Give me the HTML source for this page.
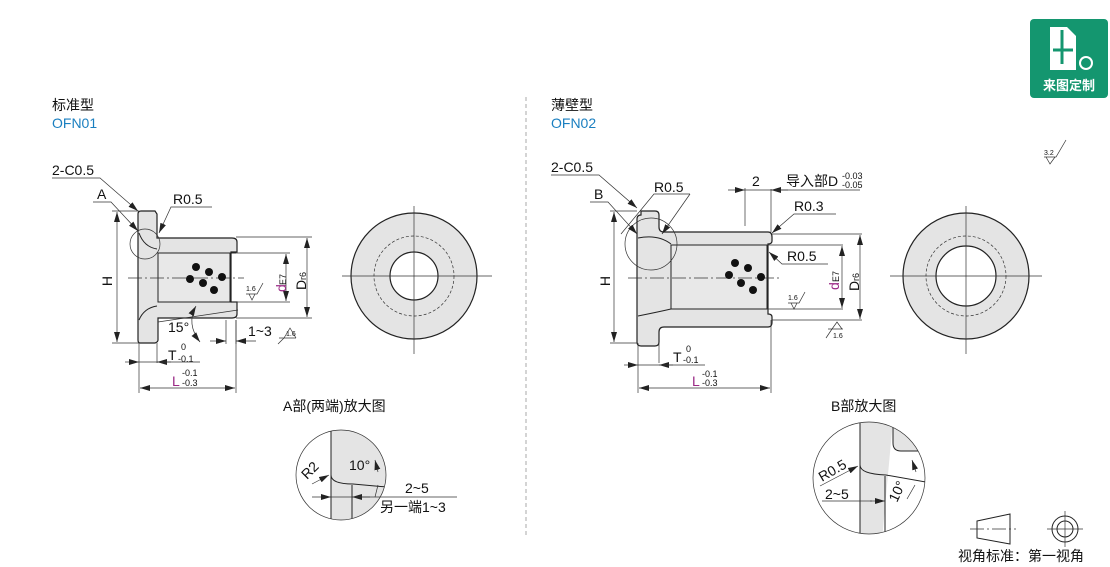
<!DOCTYPE html>
<html><head><meta charset="utf-8"><style>
html,body{margin:0;padding:0;background:#fff;}
svg{display:block;font-family:"Liberation Sans","Noto Sans CJK SC",sans-serif;}
.t{font-size:14px;fill:#111;}
.s{font-size:9px;fill:#111;}
.k{stroke:#222;stroke-width:1;fill:none;}
.th{stroke:#333;stroke-width:0.7;fill:none;}
.g{fill:#e4e4e4;stroke:#222;stroke-width:1.2;}
.c{stroke:#333;stroke-width:0.7;stroke-dasharray:14 3 2 3;fill:none;}
</style></head><body>
<svg width="1110" height="567" viewBox="0 0 1110 567">
<defs>
<marker id="a" viewBox="0 0 10 6" refX="10" refY="3" markerWidth="10" markerHeight="6" orient="auto-start-reverse" markerUnits="userSpaceOnUse"><path d="M0,0L10,3L0,6z" fill="#222"/></marker>
</defs>
<!-- titles -->
<text x="52" y="110" class="t">标准型</text>
<text x="52" y="128" style="font-size:14px;fill:#1a7fc0">OFN01</text>
<text x="551" y="110" class="t">薄壁型</text>
<text x="551" y="128" style="font-size:14px;fill:#1a7fc0">OFN02</text>
<line x1="526" y1="97" x2="526" y2="535" stroke="#aaa" stroke-dasharray="4 3"/>

<!-- badge -->
<rect x="1030" y="19" width="78" height="79" rx="4" fill="#14966f"/>
<path d="M1050,27h17l9,9v34h-26z" fill="#fff"/>
<path d="M1062,30v34M1053,50h20" stroke="#14966f" stroke-width="3"/>
<circle cx="1086" cy="63" r="7" fill="#fff"/><circle cx="1086" cy="63" r="5" fill="#14966f"/>
<text x="1069" y="90" text-anchor="middle" style="font-size:13px;font-weight:bold;fill:#fff">来图定制</text>
<!-- 3.2 -->
<text x="1044" y="155" class="s" style="font-size:7px">3.2</text>
<path d="M1044,157h12l10,-17M1046,157l4,7l5,-7" class="th"/>

<!-- ===== LEFT drawing ===== -->
<path class="g" d="M141,211h14l2,3v24h75q5,0 5,4v10h-6v50h6v12q0,4-5,4h-74v22q0,2-3,3h-15q-2,0-2-3v-126q0-3 3-3z"/>
<rect x="158" y="253" width="72" height="49" fill="#e8e8e8" stroke="#222"/>
<line x1="158" y1="253" x2="158" y2="302" class="k"/>
<path d="M139,233q5,14 18,16" class="k"/><path d="M139,320q5-12 18-14" class="k"/>
<line x1="230" y1="253" x2="236" y2="253" class="k"/>
<circle cx="145" cy="244" r="15" class="th"/>
<line x1="128" y1="278" x2="244" y2="278" class="c"/>
<g fill="#111"><circle cx="196" cy="267" r="4"/><circle cx="209" cy="272" r="4"/><circle cx="190" cy="279" r="4"/><circle cx="203" cy="283" r="4"/><circle cx="222" cy="277" r="4"/><circle cx="214" cy="290" r="4"/></g>
<!-- labels left -->
<text x="52" y="175" class="t">2-C0.5</text><path d="M52,178h48l38,33" class="th" marker-end="url(#a)"/>
<text x="97" y="199" class="t">A</text><path d="M93,202h18l27,29" class="th" marker-end="url(#a)"/>
<text x="173" y="204" class="t">R0.5</text><path d="M212,207h-41l-12,26" class="th" marker-end="url(#a)"/>
<path d="M112,211h27M112,343h27M236,237h76M236,318h76M232,253h58M232,302h58" class="th"/>
<line x1="117" y1="212" x2="117" y2="342" class="th" marker-start="url(#a)" marker-end="url(#a)"/>
<text transform="translate(112,281) rotate(-90)" class="t" text-anchor="middle">H</text>
<line x1="307" y1="238" x2="307" y2="317" class="th" marker-start="url(#a)" marker-end="url(#a)"/>
<line x1="286" y1="254" x2="286" y2="301" class="th" marker-start="url(#a)" marker-end="url(#a)"/>
<text transform="translate(286,292) rotate(-90)" style="font-size:14px;fill:#9b2a86">d</text>
<text transform="translate(286,285) rotate(-90)" class="s">E7</text>
<text transform="translate(306,290) rotate(-90)" class="t">D</text>
<text transform="translate(306,280) rotate(-90)" class="s">r6</text>
<text x="246" y="291" class="s" style="font-size:7px">1.6</text><path d="M246,294h11l6,-11M249,294l3,6l3,-6" class="th"/>
<text x="168" y="332" class="t">15°</text>
<path d="M196,306q-10,18 4,36" class="th" marker-start="url(#a)" marker-end="url(#a)"/>
<path d="M158,322l80,-12" class="th"/>
<path d="M236,320v24M226,320v24" class="th"/>
<line x1="210" y1="341" x2="226" y2="341" class="th" marker-end="url(#a)"/>
<line x1="256" y1="341" x2="236" y2="341" class="th" marker-end="url(#a)"/>
<text x="248" y="336" class="t">1~3</text>
<text x="286" y="336" class="s" style="font-size:7px">1.6</text><path d="M284,338l6,-10l6,10M279,338h17" class="th"/><path d="M284,338l-6,6" class="th"/>
<path d="M139,343v50M157,343v20M236,320v73" class="th"/>
<line x1="125" y1="362" x2="139" y2="362" class="th" marker-end="url(#a)"/>
<line x1="171" y1="362" x2="157" y2="362" class="th" marker-end="url(#a)"/>
<line x1="139" y1="362" x2="200" y2="362" class="th"/>
<text x="168" y="360" class="t">T</text><text x="181" y="350" class="s">0</text><text x="178" y="362" class="s">-0.1</text>
<line x1="140" y1="388" x2="235" y2="388" class="th" marker-start="url(#a)" marker-end="url(#a)"/>
<text x="172" y="386" style="font-size:14px;fill:#9b2a86">L</text><text x="182" y="376" class="s">-0.1</text><text x="182" y="386" class="s">-0.3</text>
<!-- left circle view -->
<circle cx="414" cy="276" r="63" fill="#e4e4e4" stroke="#222" stroke-width="1.2"/>
<circle cx="414" cy="276" r="40" class="th" stroke-dasharray="3 2"/>
<circle cx="414" cy="276" r="24" fill="#fff" stroke="#222" stroke-width="1.2"/>
<path d="M342,276h150M414,206v148" class="th"/>

<!-- A enlarged -->
<text x="283" y="411" class="t">A部(两端)放大图</text>
<clipPath id="ca"><circle cx="341" cy="475" r="45"/></clipPath>
<g clip-path="url(#ca)">
<rect x="331" y="420" width="70" height="120" fill="#e4e4e4"/>
<path d="M331,420v66M331,486v40" class="k"/>
<path d="M331,420v55q0,9 22,9l45,4" class="k" fill="none"/>
<path d="M352,485v45" class="k"/>
</g>
<circle cx="341" cy="475" r="45" class="th"/>
<text transform="translate(307,480) rotate(-45)" class="t">R2</text>
<path d="M312,484l17-9" class="th" marker-end="url(#a)"/>
<text x="349" y="470" class="t">10°</text>
<path d="M375,460l3,12M378,485l-3,12" class="th" marker-start="url(#a)"/>
<line x1="312" y1="497" x2="331" y2="497" class="th" marker-end="url(#a)"/>
<line x1="370" y1="497" x2="352" y2="497" class="th" marker-end="url(#a)"/>
<path d="M331,497h126" class="th"/>
<text x="405" y="493" class="t">2~5</text>
<text x="380" y="512" class="t">另一端1~3</text>

<!-- ===== RIGHT drawing ===== -->
<path class="g" d="M641,211h14q4,0 4,4v12q0,5 5,5h104q4,0 4,5v4q0,3-4,3v70q4,0 4,3v5q0,5-4,5h-104q-5,0-5,5v10q0,4-4,4h-14q-4,0-4-4v-123q0-4 4-4z"/>
<rect x="671" y="245" width="96" height="64" fill="#e8e8e8" stroke="#222"/>
<path d="M638,238q20,-4 33,6M638,316q20,-4 33,-7" class="k"/>
<circle cx="651" cy="244" r="26" class="th"/>
<line x1="628" y1="278" x2="780" y2="278" class="c"/>
<g fill="#111"><circle cx="735" cy="263" r="4"/><circle cx="748" cy="268" r="4"/><circle cx="729" cy="275" r="4"/><circle cx="741" cy="283" r="4"/><circle cx="761" cy="277" r="4"/><circle cx="753" cy="290" r="4"/></g>
<text x="551" y="172" class="t">2-C0.5</text><path d="M551,175h48l38,33" class="th" marker-end="url(#a)"/>
<text x="594" y="199" class="t">B</text><path d="M590,202h18l29,32" class="th" marker-end="url(#a)"/>
<text x="654" y="192" class="t">R0.5</text><path d="M690,194h-36l-33,40" class="th"/><path d="M690,194l-28,40" class="th" marker-end="url(#a)"/>
<path d="M745,226v-38M771,232v-43" class="th"/>
<line x1="728" y1="190" x2="745" y2="190" class="th" marker-end="url(#a)"/>
<line x1="788" y1="190" x2="771" y2="190" class="th" marker-end="url(#a)"/>
<path d="M745,190h115" class="th"/>
<text x="752" y="186" class="t">2</text>
<text x="786" y="186" class="t">导入部D</text><text x="842" y="179" class="s">-0.03</text><text x="842" y="188" class="s">-0.05</text>
<text x="794" y="211" class="t">R0.3</text><path d="M836,214h-42l-22,19" class="th" marker-end="url(#a)"/>
<text x="787" y="261" class="t">R0.5</text><path d="M828,264h-46l-13,-12" class="th" marker-end="url(#a)"/>
<path d="M610,211h27M610,343h27M772,234h90M772,320h90M767,245h76M767,309h76" class="th"/>
<line x1="614" y1="212" x2="614" y2="342" class="th" marker-start="url(#a)" marker-end="url(#a)"/>
<text transform="translate(610,281) rotate(-90)" class="t" text-anchor="middle">H</text>
<line x1="842" y1="246" x2="842" y2="308" class="th" marker-start="url(#a)" marker-end="url(#a)"/>
<line x1="860" y1="235" x2="860" y2="319" class="th" marker-start="url(#a)" marker-end="url(#a)"/>
<text transform="translate(839,290) rotate(-90)" style="font-size:14px;fill:#9b2a86">d</text>
<text transform="translate(839,282) rotate(-90)" class="s">E7</text>
<text transform="translate(859,291) rotate(-90)" class="t">D</text>
<text transform="translate(859,281) rotate(-90)" class="s">r6</text>
<text x="788" y="300" class="s" style="font-size:7px">1.6</text><path d="M788,303h11l6,-11M791,303l3,6l3,-6" class="th"/>
<text x="833" y="338" class="s" style="font-size:7px">1.6</text><path d="M832,329l5,-7l5,7M828,329h15M832,329l-6,9" class="th"/>
<path d="M638,343v50M659,343v20M771,320v73" class="th"/>
<line x1="624" y1="365" x2="638" y2="365" class="th" marker-end="url(#a)"/>
<line x1="673" y1="365" x2="659" y2="365" class="th" marker-end="url(#a)"/>
<line x1="638" y1="365" x2="705" y2="365" class="th"/>
<text x="673" y="362" class="t">T</text><text x="686" y="352" class="s">0</text><text x="683" y="363" class="s">-0.1</text>
<line x1="639" y1="388" x2="770" y2="388" class="th" marker-start="url(#a)" marker-end="url(#a)"/>
<text x="692" y="386" style="font-size:14px;fill:#9b2a86">L</text><text x="702" y="377" class="s">-0.1</text><text x="702" y="386" class="s">-0.3</text>
<!-- right circle view -->
<circle cx="966" cy="276" r="63" fill="#e4e4e4" stroke="#222" stroke-width="1.2"/>
<circle cx="966" cy="276" r="40" class="th" stroke-dasharray="3 2"/>
<circle cx="966" cy="276" r="30" fill="#fff" stroke="#222" stroke-width="1.2"/>
<path d="M890,276h152M966,206v148" class="th"/>

<!-- B enlarged -->
<text x="831" y="411" class="t">B部放大图</text>
<clipPath id="cb"><circle cx="869" cy="478" r="56"/></clipPath>
<g clip-path="url(#cb)">
<rect x="860" y="420" width="70" height="120" fill="#e4e4e4"/>
<path d="M893,420v23q0,8 8,8h30v100h-50" fill="#fff" stroke="#222"/>
<path d="M860,420v120" class="k"/>
<path d="M860,465q0,9 26,10l40,7" class="k" fill="none"/>
<path d="M885,476v70" class="k"/>
</g>
<circle cx="869" cy="478" r="56" class="th"/>
<text transform="translate(822,482) rotate(-30)" class="t">R0.5</text>
<path d="M820,486l38,-20" class="th" marker-end="url(#a)"/>
<text x="825" y="499" class="t">2~5</text>
<path d="M822,501h38" class="th"/>
<line x1="860" y1="501" x2="872" y2="501" class="th"/>
<line x1="870" y1="501" x2="885" y2="501" class="th" marker-end="url(#a)"/>
<text transform="translate(897,503) rotate(-65)" class="t">10°</text>
<path d="M912,460l4,12M915,485l-8,14" class="th" marker-start="url(#a)"/>

<!-- view standard -->
<path d="M977,521l33,-7v30l-33,-6z" class="k"/>
<line x1="970" y1="529" x2="1016" y2="529" class="c"/>
<circle cx="1065" cy="529" r="13" class="k"/><circle cx="1065" cy="529" r="8" class="k"/>
<path d="M1047,529h36M1065,511v36" class="th"/>
<text x="958" y="561" class="t">视角标准：第一视角</text>
</svg>
</body></html>
